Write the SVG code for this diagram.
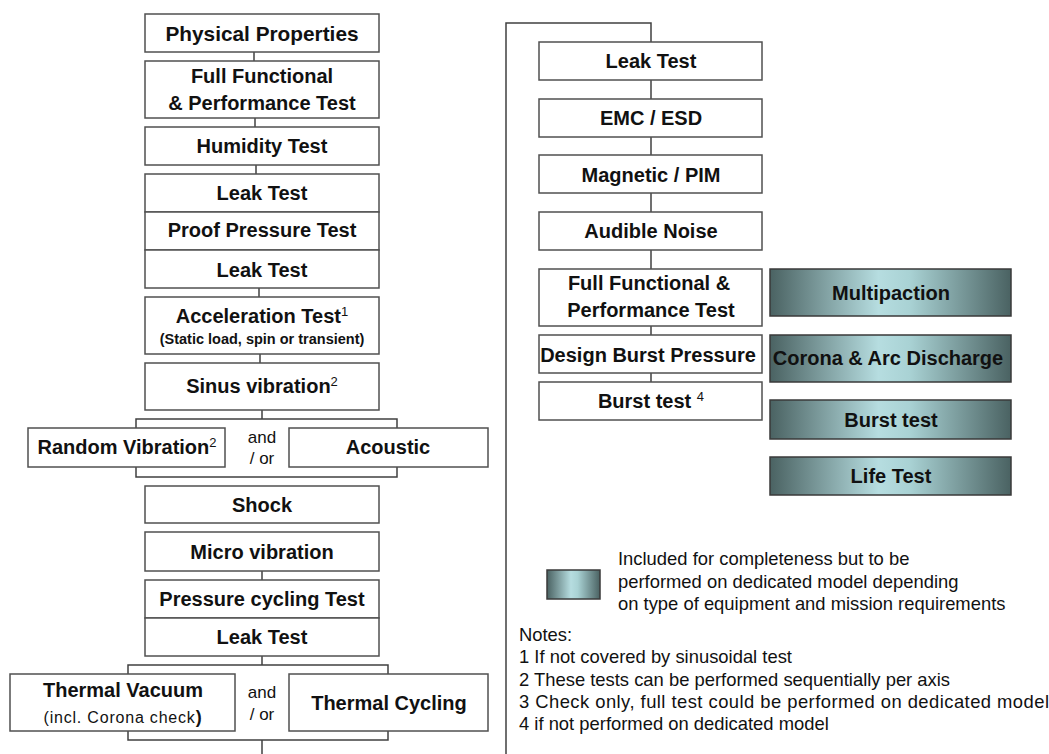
<svg xmlns="http://www.w3.org/2000/svg" width="1049" height="754" viewBox="0 0 1049 754">
<defs>
<linearGradient id="g" x1="0" y1="0" x2="1" y2="0">
<stop offset="0" stop-color="#4a6262"/>
<stop offset="0.45" stop-color="#b6dde0"/>
<stop offset="0.58" stop-color="#a9d2d4"/>
<stop offset="1" stop-color="#4a6262"/>
</linearGradient>
<style>
.b{fill:#fff;stroke:#505050;stroke-width:1.5}
.d{fill:url(#g);stroke:#3a3a3a;stroke-width:1.5}
.t{font-family:"Liberation Sans",Arial,sans-serif;font-weight:bold;font-size:20px;fill:#111;text-anchor:middle}
.s{font-family:"Liberation Sans",Arial,sans-serif;font-weight:bold;font-size:14.5px;fill:#111;text-anchor:middle}
.sup{font-size:13px;font-weight:normal}
.n{font-family:"Liberation Sans",Arial,sans-serif;font-size:18.4px;fill:#111}
.v{font-family:"Liberation Sans",Arial,sans-serif;font-size:16px;fill:#111;text-anchor:middle;letter-spacing:0.8px}
.a{font-family:"Liberation Sans",Arial,sans-serif;font-size:17px;fill:#111;text-anchor:middle}
.c{fill:none;stroke:#404040;stroke-width:1.5}
</style>
</defs>
<rect width="1049" height="754" fill="#fff"/>
<g id="connectors" class="c">
<line x1="254" y1="52" x2="254" y2="61"/>
<line x1="255" y1="118" x2="255" y2="127"/>
<line x1="256" y1="165" x2="256" y2="174"/>
<line x1="259" y1="288" x2="259" y2="297"/>
<line x1="260" y1="354" x2="260" y2="363"/>
<line x1="262" y1="410" x2="262" y2="419"/>
<polyline points="136,428 136,419 397,419 397,428"/>
<polyline points="136,467 136,477 397,477 397,467"/>
<line x1="262" y1="571" x2="262" y2="580"/>
<line x1="262" y1="656" x2="262" y2="665"/>
<polyline points="128,674 128,665 388,665 388,674"/>
<polyline points="128,731 128,740 388,740 388,731"/>
<line x1="262" y1="740" x2="262" y2="754"/>
<polyline points="506,754 506,23 651,23 651,42"/>
<line x1="651" y1="80" x2="651" y2="99"/>
<line x1="651" y1="137" x2="651" y2="155"/>
<line x1="651" y1="193" x2="651" y2="212"/>
<line x1="651" y1="250" x2="651" y2="269"/>
<line x1="651" y1="326" x2="651" y2="335"/>
<line x1="651" y1="373" x2="651" y2="382"/>
</g>
<g id="physical"><rect class="b" x="145" y="14" width="234" height="38"/><text class="t" x="262" y="41" style="font-size:20.8px">Physical Properties</text></g>
<g id="fullfunc1"><rect class="b" x="145" y="61" width="234" height="57"/><text class="t" x="262" y="83">Full Functional</text><text class="t" x="262" y="110">&amp; Performance Test</text></g>
<g id="humidity"><rect class="b" x="145" y="127" width="234" height="38"/><text class="t" x="262" y="153">Humidity Test</text></g>
<g id="leak1"><rect class="b" x="145" y="174" width="234" height="38"/><text class="t" x="262" y="200">Leak Test</text></g>
<g id="proof"><rect class="b" x="145" y="212" width="234" height="38"/><text class="t" x="262" y="237">Proof Pressure Test</text></g>
<g id="leak2"><rect class="b" x="145" y="250" width="234" height="38"/><text class="t" x="262" y="277">Leak Test</text></g>
<g id="accel"><rect class="b" x="145" y="297" width="234" height="57"/><text class="t" x="262" y="323">Acceleration Test<tspan class="sup" font-weight="bold" dy="-7">1</tspan></text><text class="s" x="262" y="344">(Static load, spin or transient)</text></g>
<g id="sinus"><rect class="b" x="145" y="363" width="234" height="47"/><text class="t" x="262" y="393">Sinus vibration<tspan class="sup" dy="-7">2</tspan></text></g>
<g id="random"><rect class="b" x="28" y="428" width="197" height="39"/><text class="t" x="127" y="454">Random Vibration<tspan class="sup" dy="-7">2</tspan></text></g>
<g id="andor1"><text class="a" x="262" y="443">and</text><text class="a" x="262" y="464">/ or</text></g>
<g id="acoustic"><rect class="b" x="289" y="428" width="199" height="39"/><text class="t" x="388" y="454">Acoustic</text></g>
<g id="shock"><rect class="b" x="145" y="486" width="234" height="37"/><text class="t" x="262" y="512">Shock</text></g>
<g id="micro"><rect class="b" x="145" y="532" width="234" height="39"/><text class="t" x="262" y="559">Micro vibration</text></g>
<g id="pcycle"><rect class="b" x="145" y="580" width="234" height="38"/><text class="t" x="262" y="606">Pressure cycling Test</text></g>
<g id="leak3"><rect class="b" x="145" y="618" width="234" height="38"/><text class="t" x="262" y="644">Leak Test</text></g>
<g id="tvac"><rect class="b" x="10" y="674" width="225" height="57"/><text class="t" x="123" y="697">Thermal Vacuum</text><text class="v" x="123" y="723">(incl. Corona check<tspan font-weight="bold" font-size="18">)</tspan></text></g>
<g id="andor2"><text class="a" x="262" y="698">and</text><text class="a" x="262" y="720">/ or</text></g>
<g id="tcyc"><rect class="b" x="289" y="674" width="199" height="57"/><text class="t" x="389" y="710">Thermal Cycling</text></g>
<g id="rleak"><rect class="b" x="539" y="42" width="223" height="38"/><text class="t" x="651" y="68">Leak Test</text></g>
<g id="emc"><rect class="b" x="539" y="99" width="223" height="38"/><text class="t" x="651" y="125">EMC / ESD</text></g>
<g id="mag"><rect class="b" x="539" y="155" width="223" height="38"/><text class="t" x="651" y="182">Magnetic / PIM</text></g>
<g id="audible"><rect class="b" x="539" y="212" width="223" height="38"/><text class="t" x="651" y="238">Audible Noise</text></g>
<g id="fullfunc2"><rect class="b" x="539" y="269" width="223" height="57"/><text class="t" x="649" y="290">Full Functional &amp;</text><text class="t" x="651" y="317">Performance Test</text></g>
<g id="design"><rect class="b" x="539" y="335" width="223" height="38"/><text class="t" x="648" y="362">Design Burst Pressure</text></g>
<g id="burst1"><rect class="b" x="539" y="382" width="223" height="38"/><text class="t" x="651" y="408">Burst test <tspan class="sup" dy="-7">4</tspan></text></g>
<g id="multipaction"><rect class="d" x="770" y="269" width="241" height="47"/><text class="t" x="891" y="300">Multipaction</text></g>
<g id="corona"><rect class="d" x="770" y="335" width="241" height="47"/><text class="t" x="888" y="365">Corona &amp; Arc Discharge</text></g>
<g id="burst2"><rect class="d" x="770" y="400" width="241" height="39"/><text class="t" x="891" y="427">Burst test</text></g>
<g id="life"><rect class="d" x="770" y="457" width="241" height="38"/><text class="t" x="891" y="483">Life Test</text></g>
<g id="legend"><rect class="d" x="547" y="570" width="53" height="29"/>
<text class="n" x="618" y="565">Included for completeness but to be</text>
<text class="n" x="618" y="588">performed on dedicated model depending</text>
<text class="n" x="618" y="610">on type of equipment and mission requirements</text></g>
<g id="notes">
<text class="n" x="519" y="641">Notes:</text>
<text class="n" x="519" y="663">1 If not covered by sinusoidal test</text>
<text class="n" x="519" y="686">2 These tests can be performed sequentially per axis</text>
<text class="n" x="519" y="708" textLength="530" lengthAdjust="spacing">3 Check only, full test could be performed on dedicated model</text>
<text class="n" x="519" y="730">4 if not performed on dedicated model</text>
</g>
</svg>
